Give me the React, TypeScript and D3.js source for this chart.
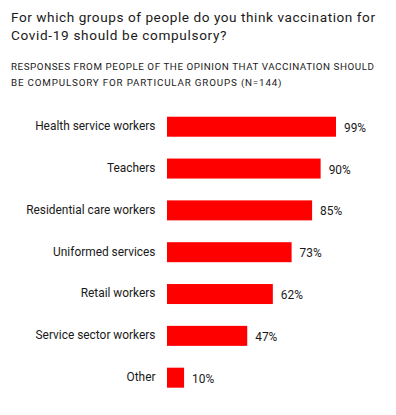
import React from "react";
import * as d3 from "d3";

const categories = [
  "Health service workers",
  "Teachers",
  "Residential care workers",
  "Uniformed services",
  "Retail workers",
  "Service sector workers",
  "Other",
];
const values = [99, 90, 85, 73, 62, 47, 10];
const titleLines = [
  "For which groups of people do you think vaccination for",
  "Covid-19 should be compulsory?",
];
const titleWidths = [364, 215.5];
const subtitleLines = [
  "RESPONSES FROM PEOPLE OF THE OPINION THAT VACCINATION SHOULD",
  "BE COMPULSORY FOR PARTICULAR GROUPS (N=144)",
];
const subtitleWidths = [363, 270.5];

const W = 396;
const H = 415;
const FONT = "Roboto, 'Noto Sans', sans-serif";

export default function App() {
  const x = d3.scaleLinear().domain([0, 100]).range([167, 167 + 170.7]);
  const y = d3
    .scaleBand<string>()
    .domain(categories)
    .range([105.8, 398.6])
    .paddingInner(0.522)
    .paddingOuter(0.261);
  const bw = y.bandwidth();
  return (
    <svg
      width={W}
      height={H}
      style={{ position: "absolute", left: 0, top: 0, background: "#fff" }}
      fontFamily={FONT}
    >
      {titleLines.map((t, i) => (
        <text
          key={t}
          x={11}
          y={22 + i * 17.8}
          fontSize={13.6}
          fill="#1a1a1a"
          textLength={titleWidths[i]}
          lengthAdjust="spacing"
        >
          {t}
        </text>
      ))}
      {subtitleLines.map((t, i) => (
        <text
          key={t}
          x={11}
          y={70 + i * 16}
          fontSize={9.8}
          fill="#1a1a1a"
          textLength={subtitleWidths[i]}
          lengthAdjust="spacing"
        >
          {t}
        </text>
      ))}
      {categories.map((c, i) => {
        const y0 = y(c)!;
        return (
          <g key={c}>
            <text
              x={155.5}
              y={y0 + bw / 2}
              dy="0.29em"
              textAnchor="end"
              fontSize={11.9}
              fill="#1a1a1a"
            >
              {c}
            </text>
            <rect x={x(0)} y={y0} width={x(values[i]) - x(0)} height={bw} fill="#ff0000" />
            <text
              x={x(values[i]) + 8}
              y={y0 + bw / 2}
              dy="0.42em"
              fontSize={11.9}
              fill="#1a1a1a"
            >
              {values[i]}%
            </text>
          </g>
        );
      })}
    </svg>
  );
}
